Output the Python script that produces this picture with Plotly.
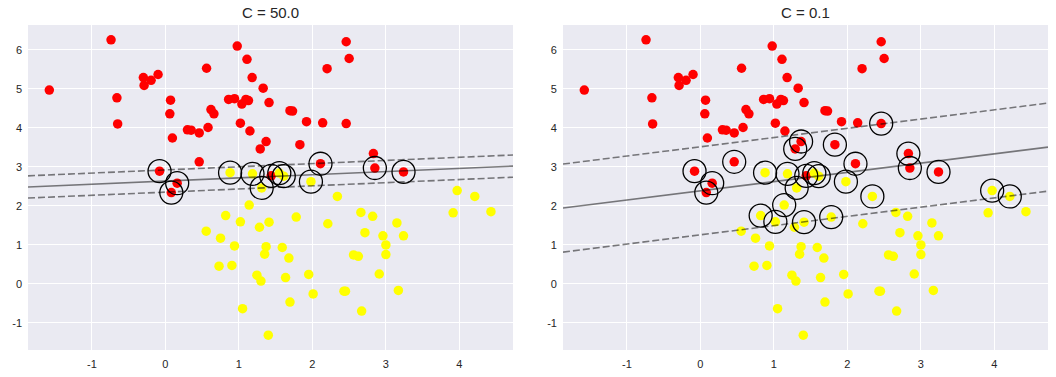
import plotly.graph_objects as go
from plotly.subplots import make_subplots

# ---- data ----
red_x = [-0.74, -1.58, -0.30, -0.195, -0.10, -0.29, -0.66, 0.07, 0.06, -0.65,
         0.30, 0.35, 0.095, 0.977, 2.46, 1.11, 2.50, 0.56, 2.20, 1.18,
         1.33, 0.86, 0.94, 1.095, 1.13, 1.04, 1.41, 0.62, 0.66, 1.695,
         1.73, 1.92, 2.14, 2.46, 0.46, 0.58, 1.02, 1.15, 1.37, 1.29,
         1.83, 0.46, -0.08, 0.16, 0.08, 1.44, 2.11, 2.83, 2.85, 3.24]
red_y = [6.26, 4.97, 5.29, 5.22, 5.37, 5.09, 4.77, 4.71, 4.36, 4.10,
         3.95, 3.94, 3.74, 6.10, 6.21, 5.76, 5.78, 5.53, 5.52, 5.29,
         5.02, 4.73, 4.75, 4.73, 4.70, 4.61, 4.65, 4.47, 4.36, 4.44,
         4.43, 4.16, 4.13, 4.11, 3.87, 4.01, 4.12, 3.92, 3.65, 3.46,
         3.57, 3.13, 2.89, 2.58, 2.34, 2.77, 3.08, 3.34, 2.97, 2.87]

yel_x = [0.88, 1.185, 1.55, 1.61, 1.31, 1.98, 2.34, 1.14, 0.82, 1.02,
         1.28, 1.41, 1.78, 2.21, 0.555, 0.75, 0.94, 1.37, 1.59, 1.35,
         1.68, 2.56, 2.625, 0.73, 0.905, 1.245, 1.30, 1.635, 1.95, 2.01,
         2.43, 2.45, 1.695, 1.05, 1.40, 3.00, 3.00, 2.91, 3.17, 2.67,
         3.97, 4.21, 3.915, 4.43, 2.66, 2.82, 3.15, 2.715, 2.96, 3.24]
yel_y = [2.85, 2.82, 2.84, 2.76, 2.46, 2.62, 2.24, 2.02, 1.75, 1.59,
         1.45, 1.58, 1.71, 1.54, 1.35, 1.17, 0.97, 0.95, 0.93, 0.76,
         0.66, 0.74, 0.705, 0.45, 0.47, 0.22, 0.07, 0.16, 0.24, -0.26,
         -0.19, -0.19, -0.47, -0.64, -1.32, 0.995, 0.75, 0.25, -0.17, -0.70,
         2.39, 2.24, 1.82, 1.85, 1.83, 1.73, 1.56, 1.31, 1.23, 1.23]

titles = ["C = 50.0", "C = 0.1"]
# support vectors (indices into red / yellow lists) for each panel
sv_red = [[42, 43, 44, 45, 46, 48, 49],
          [42, 43, 44, 41, 38, 39, 45, 40, 46, 33, 47, 48, 49]]
sv_yel = [[0, 1, 2, 3, 4, 5],
          [0, 1, 2, 3, 4, 5, 6, 40, 41, 7, 8, 9, 11, 12]]
# decision boundary y = slope*x + intercept, margins at +/- margin
slopes = [0.081, 0.237]
intercepts = [2.636, 2.385]
margins = [0.285, 1.13]

x_range = [-1.87, 4.73]
y_range = [-1.70, 6.64]
tick_vals_x = [-1, 0, 1, 2, 3, 4]
tick_vals_y = [-1, 0, 1, 2, 3, 4, 5, 6]

fig = make_subplots(rows=1, cols=2, horizontal_spacing=0.049)

for i in range(2):
    col = i + 1
    fig.add_trace(go.Scatter(x=red_x, y=red_y, mode="markers",
                             marker=dict(color="#ff0000", size=9.5, line=dict(width=0)),
                             showlegend=False, hoverinfo="skip"), row=1, col=col)
    fig.add_trace(go.Scatter(x=yel_x, y=yel_y, mode="markers",
                             marker=dict(color="#ffff00", size=9.5, line=dict(width=0)),
                             showlegend=False, hoverinfo="skip"), row=1, col=col)
    xs = x_range
    for off, dash in [(-margins[i], "7px,3px"), (0.0, "solid"), (margins[i], "7px,3px")]:
        ys = [slopes[i] * xv + intercepts[i] + off for xv in xs]
        fig.add_trace(go.Scatter(x=xs, y=ys, mode="lines",
                                 line=dict(color="rgba(0,0,0,0.5)", width=1.6, dash=dash),
                                 showlegend=False, hoverinfo="skip"), row=1, col=col)
    svx = [red_x[k] for k in sv_red[i]] + [yel_x[k] for k in sv_yel[i]]
    svy = [red_y[k] for k in sv_red[i]] + [yel_y[k] for k in sv_yel[i]]
    fig.add_trace(go.Scatter(x=svx, y=svy, mode="markers",
                             marker=dict(symbol="circle-open", size=23, color="black",
                                         line=dict(width=1.3, color="black")),
                             showlegend=False, hoverinfo="skip"), row=1, col=col)

axis_font = dict(family="Liberation Sans, Arial, sans-serif", size=11, color="#262626")
fig.update_xaxes(range=x_range, tickvals=tick_vals_x,
                 ticktext=[str(v) for v in tick_vals_x],
                 showgrid=True, gridcolor="white", gridwidth=1.3, zeroline=False,
                 showline=False, ticks="", tickfont=axis_font, ticklabelstandoff=6,
                 automargin=False)
fig.update_yaxes(range=y_range, tickvals=tick_vals_y,
                 ticktext=[str(v) for v in tick_vals_y],
                 showgrid=True, gridcolor="white", gridwidth=1.3, zeroline=False,
                 showline=False, ticks="", tickfont=axis_font, ticklabelstandoff=5,
                 automargin=False)

annotations = []
for i, ax in enumerate(["xaxis", "xaxis2"]):
    dom = fig.layout[ax].domain
    annotations.append(dict(text=titles[i], x=(dom[0] + dom[1]) / 2, y=1.0,
                            xref="paper", yref="paper", xanchor="center", yanchor="bottom",
                            yshift=2, showarrow=False,
                            font=dict(family="Liberation Sans, Arial, sans-serif", size=15,
                                      color="#262626")))

fig.update_layout(width=1056, height=377,
                  margin=dict(l=28, r=8, t=25, b=27, autoexpand=False),
                  paper_bgcolor="white", plot_bgcolor="#EAEAF2",
                  annotations=annotations)

fig.write_html("out.html", config={"displayModeBar": False},
               post_script="document.body.style.margin='0';document.body.style.overflow='hidden';")
